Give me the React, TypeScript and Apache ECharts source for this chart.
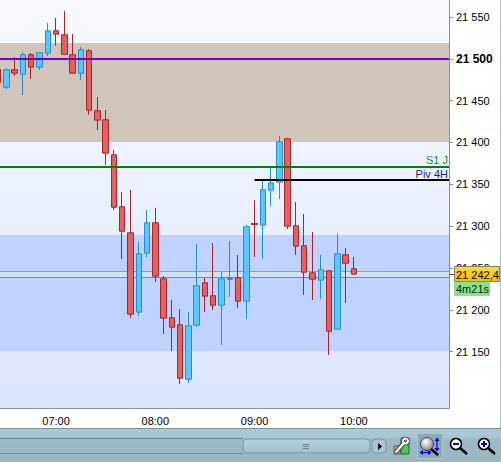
import React, { useEffect, useRef } from "react";
import * as echarts from "echarts";

const categories = [
  "06:25","06:30","06:35","06:40","06:45","06:50","06:55","07:00","07:05","07:10","07:15","07:20","07:25","07:30","07:35","07:40","07:45","07:50","07:55",
  "08:00","08:05","08:10","08:15","08:20","08:25","08:30","08:35","08:40","08:45","08:50","08:55",
  "09:00","09:05","09:10","09:15","09:20","09:25","09:30","09:35","09:40","09:45","09:50","09:55",
  "10:00","10:05","10:10","10:15","10:20","10:25","10:30","10:35","10:40","10:45","10:50","10:55",
];
const hourLabels = ["07:00", "08:00", "09:00", "10:00"];

// open, close, low, high
const candles = [
  [21487.2,21471.7,21468.7,21491.4],
  [21466.1,21486.9,21463.9,21488.7],
  [21486.9,21482.8,21479.4,21502.2],
  [21481.6,21504.8,21456.8,21508.1],
  [21504.8,21490,21475.9,21506.9],
  [21490,21507.2,21486.6,21507.8],
  [21506.7,21533.4,21503.3,21542.8],
  [21533.4,21529.4,21515.3,21548.8],
  [21528.7,21505.5,21504.9,21557.1],
  [21504.8,21482.8,21482.2,21529.6],
  [21482.8,21510.8,21474.7,21514.1],
  [21509.6,21438.6,21432.9,21511.7],
  [21437.9,21426.7,21414.9,21454.3],
  [21427.1,21387.2,21373.2,21438.8],
  [21385.3,21322.7,21319.4,21391],
  [21323.2,21294,21260.8,21340.9],
  [21292.1,21194.9,21190.3,21343.3],
  [21197.3,21267,21192.7,21281.1],
  [21267.8,21304.1,21263.2,21319.4],
  [21304.1,21240.3,21233.3,21321.8],
  [21237.2,21190.1,21171.2,21240.5],
  [21190.6,21179.3,21150.9,21211.8],
  [21182.2,21118.4,21111.5,21201.1],
  [21117.2,21181,21112.7,21197.5],
  [21181.7,21228.8,21179.6,21278.7],
  [21232.4,21216.4,21197.5,21238.1],
  [21216.9,21205.6,21199.9,21279.9],
  [21205.6,21237.2,21158.1,21245.3],
  [21236.4,21237.5,21215.4,21282.3],
  [21238.3,21210.4,21202.3,21265.6],
  [21210.4,21299.3,21189.2,21301.5],
  [21303.2,21302,21263.2,21331.3],
  [21301.2,21343.5,21260.8,21355.2],
  [21343,21351.8,21324.2,21370.8],
  [21352.6,21400.8,21332.5,21407.8],
  [21404.4,21300,21296.7,21405.4],
  [21300.5,21276.1,21265.6,21328.9],
  [21276.6,21245,21217.8,21314.6],
  [21244.3,21236.7,21211.8,21293.1],
  [21235.5,21247.9,21213,21265.6],
  [21246.7,21174.6,21146.1,21247.7],
  [21177,21267,21176.4,21290.7],
  [21265.8,21255.8,21208.3,21274],
  [21249.1,21242.7,21242.1,21263.2],
];

const yMin = 21082.8;
const yMax = 21570.2;
const yTicks = [21150, 21200, 21250, 21300, 21350, 21400, 21450, 21500, 21550];
const yTickLabels = ["21 150", "21 200", "21 250", "21 300", "21 350", "21 400", "21 450", "21 500", "21 550"];
const boldTick = 21500;

const brownZone = [21400.6, 21518.9];
const blueZone = [21150.9, 21289.5];
const levelPurple = 21500;
const levelGreen = 21371;
const levelBlack = 21355;
const askLevel = 21246;
const bidLevel = 21239;
const lastPriceLabel = "21 242,4";
const countdownLabel = "4m21s";
const levelGreenLabel = "S1 J";
const levelBlackLabel = "Piv 4H";
const blackStart = "09:00";

const FONT = "Liberation Sans";

const WIDTH = 501;
const HEIGHT = 462;
const PLOT_RIGHT = 449;
const PLOT_BOTTOM = 408;
// the first candle is cut by the left edge, so the canvas starts left of the page
const OFFSET = 20;
const PLOT_LEFT = -6;

const blue = "#0000e0";
const arrow = (pts: number[][]) => ({ type: "polygon", z: 44, shape: { points: pts }, style: { fill: blue } });

function App() {
  const ref = useRef<HTMLDivElement>(null);
  useEffect(() => {
    const chart = echarts.init(ref.current!, undefined, { renderer: "svg" });
    const tickFn = (_: number, v: string) => hourLabels.includes(v);
    chart.setOption({
      animation: false,
      backgroundColor: "#ffffff",
      grid: {
        show: true,
        left: PLOT_LEFT + OFFSET,
        top: 0,
        width: PLOT_RIGHT - PLOT_LEFT,
        height: PLOT_BOTTOM,
        borderWidth: 0,
        backgroundColor: new echarts.graphic.LinearGradient(0, 0, 0, 1, [
          { offset: 0, color: "#f8faff" },
          { offset: 1, color: "#dbe6ff" },
        ]),
      },
      xAxis: {
        type: "category",
        data: categories,
        boundaryGap: true,
        axisLine: { lineStyle: { color: "#7a92a4", width: 1 } },
        axisTick: { alignWithLabel: true, interval: tickFn, length: 4, lineStyle: { color: "#7a92a4" } },
        axisLabel: { interval: tickFn, color: "#000", fontFamily: FONT, fontSize: 11, margin: 7, hideOverlap: false },
        splitLine: { show: false },
      },
      yAxis: {
        type: "value",
        position: "right",
        min: yMin,
        max: yMax,
        axisLine: { show: true, lineStyle: { color: "#7a92a4", width: 1 } },
        axisTick: { show: true, customValues: yTicks, length: 4, lineStyle: { color: "#7a92a4" } },
        axisLabel: {
          customValues: yTicks,
          color: "#000",
          fontFamily: FONT,
          fontSize: 11,
          margin: 7,
          formatter: (v: number) => {
            const t = yTickLabels[yTicks.indexOf(v)] ?? "";
            return v === boldTick ? `{b|${t}}` : t;
          },
          rich: { b: { fontFamily: FONT, fontSize: 12, fontWeight: "bold", color: "#000" } },
        },
        splitLine: { show: false },
      },
      series: [
        {
          type: "line",
          data: [],
          silent: true,
          z: 1,
          markLine: {
            silent: true,
            symbol: "none",
            z: 1,
            label: { show: false },
            lineStyle: { type: "solid", width: 1 },
            data: [
              { yAxis: askLevel, lineStyle: { color: "#58c858", type: "solid", width: 1 } },
              { yAxis: bidLevel, lineStyle: { color: "#c86a6a", type: "solid", width: 1 } },
            ],
          },
          markArea: {
            silent: true,
            z: 0,
            data: [
              [{ yAxis: brownZone[0], itemStyle: { color: "#d1c4bb" } }, { yAxis: brownZone[1] }],
              [{ yAxis: blueZone[0], itemStyle: { color: "#c0d3fe" } }, { yAxis: blueZone[1] }],
              [{ yAxis: bidLevel, itemStyle: { color: "#cfe2ee" } }, { yAxis: askLevel }],
            ],
          },
        },
        {
          type: "candlestick",
          data: candles,
          barWidth: 6,
          z: 2,
          itemStyle: {
            color: "#5fc6fd",
            color0: "#e06262",
            borderColor: "#2390c8",
            borderColor0: "#a82428",
            borderWidth: 1,
          },
          markLine: {
            silent: true,
            symbol: "none",
            z: 5,
            data: [
              {
                yAxis: levelPurple,
                lineStyle: { color: "#7a00c0", type: "solid", width: 2 },
                label: { show: false },
              },
              {
                yAxis: levelGreen,
                lineStyle: { color: "#008000", type: "solid", width: 2 },
                label: {
                  show: true,
                  formatter: levelGreenLabel,
                  position: "insideEndTop",
                  color: "#1c8a1c",
                  fontFamily: FONT,
                  fontSize: 11,
                  distance: 1,
                },
              },
              [
                {
                  coord: [blackStart, levelBlack],
                  lineStyle: { color: "#000000", type: "solid", width: 2 },
                  label: {
                    show: true,
                    formatter: levelBlackLabel,
                    position: "insideEndTop",
                    color: "#1a2a50",
                    fontFamily: FONT,
                    fontSize: 11,
                    distance: 1,
                  },
                },
                {
                  x: PLOT_RIGHT + OFFSET,
                  y: ((yMax - levelBlack) / (yMax - yMin)) * PLOT_BOTTOM,
                },
              ],
            ],
          },
        },
      ],
      graphic: [
        {
          type: "group",
          x: OFFSET,
          y: 0,
          z: 50,
          children: [
            // right window edge
            { type: "line", z: 39, shape: { x1: 500.5, y1: 0, x2: 500.5, y2: 428 }, style: { stroke: "#a3c3cf", lineWidth: 1 } },
            {
              type: "rect",
              z: 50,
              shape: { x: 454.5, y: 266.5, width: 45, height: 15 },
              style: {
                fill: new echarts.graphic.LinearGradient(0, 0, 0, 1, [
                  { offset: 0, color: "#ffdc30" },
                  { offset: 1, color: "#f5bc00" },
                ]),
                stroke: "#808070",
                lineWidth: 1,
              },
            },
            { type: "text", z: 51, x: 456, y: 269, style: { text: lastPriceLabel, fill: "#000", font: `11px ${FONT}` } },
            { type: "rect", z: 50, shape: { x: 454, y: 282, width: 36, height: 14 }, style: { fill: "#84e48c" } },
            { type: "text", z: 51, x: 456, y: 283.5, style: { text: countdownLabel, fill: "#102010", font: `11px ${FONT}` } },
            { type: "line", z: 50, shape: { x1: 449, y1: 274.5, x2: 454, y2: 274.5 }, style: { stroke: "#404040", lineWidth: 1 } },

            // bottom toolbar
            {
              type: "rect",
              z: 40,
              shape: { x: 0, y: 428, width: WIDTH, height: 34 },
              style: {
                fill: new echarts.graphic.LinearGradient(0, 0, 0, 1, [
                  { offset: 0, color: "#adcbd7" },
                  { offset: 0.3, color: "#a6c4d0" },
                  { offset: 0.31, color: "#9cbac7" },
                  { offset: 1, color: "#99b6c3" },
                ]),
              },
            },
            { type: "line", z: 41, shape: { x1: 0, y1: 428.5, x2: WIDTH, y2: 428.5 }, style: { stroke: "#7c909c", lineWidth: 1 } },
            { type: "line", z: 41, shape: { x1: 0, y1: 438.5, x2: 243, y2: 438.5 }, style: { stroke: "#708896", lineWidth: 1 } },
            { type: "line", z: 41, shape: { x1: 0, y1: 453.5, x2: 243, y2: 453.5 }, style: { stroke: "#708896", lineWidth: 1 } },
            {
              type: "rect",
              z: 42,
              shape: { x: 243, y: 439, width: 127, height: 14, r: 4 },
              style: {
                fill: new echarts.graphic.LinearGradient(0, 0, 0, 1, [
                  { offset: 0, color: "#b5d2de" },
                  { offset: 1, color: "#9fbdca" },
                ]),
                stroke: "#7e98a4",
                lineWidth: 1,
              },
            },
            { type: "line", z: 43, shape: { x1: 303, y1: 444.5, x2: 309, y2: 444.5 }, style: { stroke: "#6c8290", lineWidth: 1 } },
            { type: "line", z: 43, shape: { x1: 303, y1: 446.5, x2: 309, y2: 446.5 }, style: { stroke: "#6c8290", lineWidth: 1 } },
            { type: "line", z: 43, shape: { x1: 303, y1: 448.5, x2: 309, y2: 448.5 }, style: { stroke: "#6c8290", lineWidth: 1 } },
            {
              type: "rect",
              z: 42,
              shape: { x: 372, y: 439, width: 14, height: 14, r: 4 },
              style: { fill: "#a8c6d2", stroke: "#7e98a4", lineWidth: 1 },
            },
            { type: "polygon", z: 43, shape: { points: [[378, 443], [378, 450], [382, 446.5]] }, style: { fill: "#000" } },
            // settings icon
            { type: "rect", z: 42, shape: { x: 394, y: 446, width: 7, height: 8 }, style: { fill: "#e09090", stroke: "#705050" } },
            { type: "rect", z: 42, shape: { x: 401, y: 438, width: 8, height: 16 }, style: { fill: "#40d050", stroke: "#306030" } },
            { type: "line", z: 43, shape: { x1: 396, y1: 452, x2: 404, y2: 443 }, style: { stroke: "#404040", lineWidth: 4.5 } },
            { type: "circle", z: 43, shape: { cx: 405.5, cy: 441, r: 2.5 }, style: { fill: "none", stroke: "#404040", lineWidth: 3.5 } },
            { type: "line", z: 44, shape: { x1: 396, y1: 452, x2: 404, y2: 443 }, style: { stroke: "#ffffff", lineWidth: 2.5 } },
            { type: "circle", z: 44, shape: { cx: 405.5, cy: 441, r: 2.5 }, style: { fill: "none", stroke: "#ffffff", lineWidth: 2 } },
            // selected autoscale
            { type: "rect", z: 42, shape: { x: 417.5, y: 433.5, width: 25, height: 25 }, style: { fill: "#8daab7", stroke: "#b0c6cf", lineWidth: 1 } },
            {
              type: "circle",
              z: 43,
              shape: { cx: 427, cy: 444, r: 6.5 },
              style: {
                fill: new echarts.graphic.RadialGradient(0.4, 0.35, 0.7, [
                  { offset: 0, color: "#ffffff" },
                  { offset: 1, color: "#808080" },
                ]),
                stroke: "#404040",
                lineWidth: 1,
              },
            },
            { type: "line", z: 43, shape: { x1: 431, y1: 449, x2: 438, y2: 455 }, style: { stroke: "#000", lineWidth: 2.5 } },
            { type: "line", z: 44, shape: { x1: 437, y1: 440, x2: 437, y2: 449 }, style: { stroke: blue, lineWidth: 1.2 } },
            arrow([[434.5, 441], [439.5, 441], [437, 437.5]]),
            arrow([[434.5, 448], [439.5, 448], [437, 451.5]]),
            { type: "line", z: 44, shape: { x1: 422, y1: 452.5, x2: 429, y2: 452.5 }, style: { stroke: blue, lineWidth: 1.2 } },
            arrow([[423, 450], [423, 455], [419.5, 452.5]]),
            arrow([[428, 450], [428, 455], [431.5, 452.5]]),
            // zoom out
            { type: "circle", z: 43, shape: { cx: 456, cy: 444, r: 5.5 }, style: { fill: "#ffffff", stroke: "#000", lineWidth: 1.5 } },
            { type: "line", z: 44, shape: { x1: 453, y1: 444, x2: 459, y2: 444 }, style: { stroke: blue, lineWidth: 2 } },
            { type: "line", z: 43, shape: { x1: 460, y1: 448, x2: 467, y2: 454 }, style: { stroke: "#000", lineWidth: 2.5 } },
            // zoom in
            { type: "circle", z: 43, shape: { cx: 484, cy: 444, r: 5.5 }, style: { fill: "#ffffff", stroke: "#000", lineWidth: 1.5 } },
            { type: "line", z: 44, shape: { x1: 481, y1: 444, x2: 487, y2: 444 }, style: { stroke: blue, lineWidth: 2 } },
            { type: "line", z: 44, shape: { x1: 484, y1: 441, x2: 484, y2: 447 }, style: { stroke: blue, lineWidth: 2 } },
            { type: "line", z: 43, shape: { x1: 488, y1: 448, x2: 495, y2: 454 }, style: { stroke: "#000", lineWidth: 2.5 } },
          ],
        },
      ],
    });
    return () => chart.dispose();
  }, []);
  return (
    <div
      ref={ref}
      style={{ position: "fixed", left: -OFFSET, top: 0, width: WIDTH + OFFSET, height: HEIGHT }}
    />
  );
}

export default App;
